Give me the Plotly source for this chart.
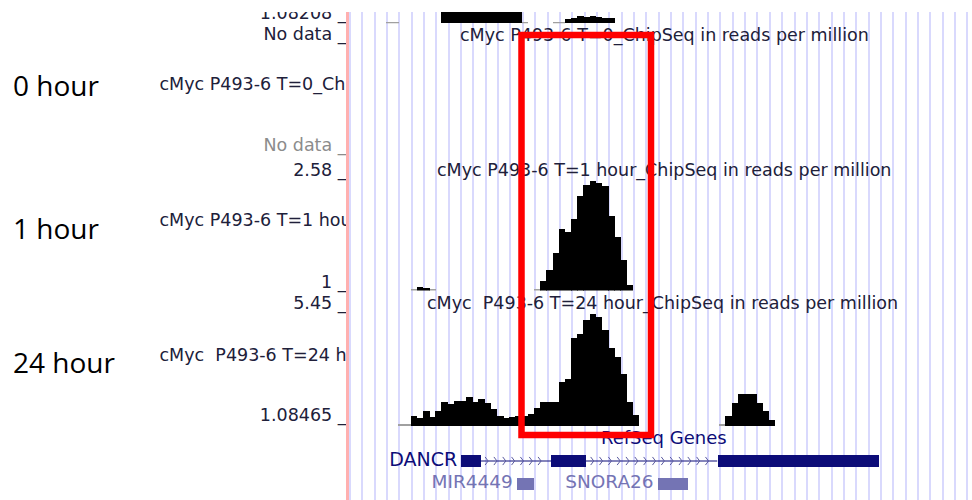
import numpy as np
import plotly.graph_objects as go

W, H = 972, 500
TOP = 12            # top edge of the browser capture (px)
X0 = 348.6          # px where bin 0 of the region starts
BINPX = 6.175       # px per bin
NBINS = (W - X0) / BINPX

def py(p):
    return 1 - p / H

def pxp(p):
    return p / W

# ---------------- data (bin index along region, reads per million) ----------------
# track above the 0-hour track (cut off at the top), baseline 1.08208
prev_base = 1.08208
prev_bins = [15, 16, 17, 18, 19, 20, 21, 22, 23, 24, 25, 26, 27,
             35, 36, 37, 38, 39, 40, 41, 42]
prev_vals = [3.0, 3.0, 3.0, 3.0, 3.0, 3.0, 3.0, 3.0, 3.0, 3.0, 3.0, 3.0, 3.0,
             1.30, 1.38, 1.50, 1.42, 1.50, 1.42, 1.36, 1.36]
prev_gray_bins = [6, 7, 28, 33, 34]
prev_gray_vals = [1.16, 1.16, 1.16, 1.16, 1.16]

# cMyc P493-6 T=1 hour
h1_min, h1_max = 1.0, 2.58
h1_bins = [11, 12, 31, 32, 33, 34, 35, 36, 37, 38, 39, 40, 41, 42, 43, 44, 45]
h1_vals = [1.05, 1.04, 1.13, 1.29, 1.52, 1.85, 1.81, 1.99, 2.32, 2.47, 2.53,
           2.49, 2.46, 2.04, 1.75, 1.42, 1.08]
h1_gray_bins = [10, 13, 30]
h1_gray_vals = [1.02, 1.02, 1.02]

# cMyc P493-6 T=24 hour
h24_min, h24_max = 1.08465, 5.45
h24_bins = [10, 11, 12, 13, 14, 15, 16, 17, 18, 19, 20, 21, 22, 23, 24, 25, 26, 27,
            28, 29, 30, 31, 32, 33, 34, 35, 36, 37, 38, 39, 40, 41, 42, 43, 44, 45, 46,
            61, 62, 63, 64, 65, 66, 67, 68]
h24_vals = [1.46, 1.40, 1.66, 1.41, 1.66, 1.97, 1.91, 2.04, 2.04, 2.17, 2.00, 2.10,
            1.94, 1.71, 1.47, 1.37, 1.41, 1.46,
            1.46, 1.54, 1.76, 1.99, 1.99, 1.99, 2.74, 2.85, 4.40, 4.55, 5.07, 5.30,
            5.19, 4.70, 4.01, 3.68, 3.04, 1.99, 1.50,
            1.46, 1.96, 2.29, 2.29, 2.29, 1.96, 1.65, 1.31]
h24_gray_bins = [8, 9, 60]
h24_gray_vals = [1.14, 1.14, 1.14]

# RefSeq genes (bin coordinates)
dancr_exon_start = [18.2, 32.7, 59.7]
dancr_exon_end = [21.3, 38.4, 85.9]
small_genes = ["MIR4449", "SNORA26"]
small_start = [27.2, 50.0]
small_end = [30.0, 54.9]

# ---------------- styling ----------------
UFONT = "DejaVu Sans"
USIZE = 17.5
DARK = "#20203a"
NAVY = "#0c0c78"
LIGHTG = "#7474b4"
GRID = "#d9d9fd"

fig = go.Figure()

# invisible trace so the background (grid) subplot exists
fig.add_trace(go.Scatter(x=[None], y=[None], mode="markers", xaxis="x", yaxis="y",
                         hoverinfo="skip", showlegend=False))


def bars(bins, vals, base, color, xa, ya):
    fig.add_trace(go.Bar(
        x=[b + 0.5 for b in bins], y=[v - base for v in vals], base=base,
        width=1.08, marker=dict(color=color, line=dict(width=0)),
        xaxis=xa, yaxis=ya, hoverinfo="skip", showlegend=False))


bars(prev_gray_bins, prev_gray_vals, prev_base, "#a0a0a0", "x4", "y2")
bars(prev_bins, prev_vals, prev_base, "black", "x4", "y2")
bars(h1_gray_bins, h1_gray_vals, h1_min, "#a0a0a0", "x5", "y5")
bars(h1_bins, h1_vals, h1_min, "black", "x5", "y5")
bars(h24_gray_bins, h24_gray_vals, h24_min, "#a0a0a0", "x6", "y6")
bars(h24_bins, h24_vals, h24_min, "black", "x6", "y6")

# gene track: DANCR line + chevrons + exons
fig.add_trace(go.Scatter(x=[dancr_exon_end[0], dancr_exon_start[-1]], y=[0, 0],
                         mode="lines", line=dict(color=NAVY, width=1.2),
                         xaxis="x7", yaxis="y7", hoverinfo="skip", showlegend=False))
cx, cy = [], []
for a, b in zip(dancr_exon_end[:-1], dancr_exon_start[1:]):
    for c in np.arange(a + 1.3, b - 0.2, 1.43):
        cx += [c - 0.5, c, c - 0.5, None]
        cy += [-0.18, 0, 0.18, None]
fig.add_trace(go.Scatter(x=cx, y=cy, mode="lines", line=dict(color="#5a5aa0", width=1),
                         xaxis="x7", yaxis="y7", hoverinfo="skip", showlegend=False))
fig.add_trace(go.Bar(orientation="h", base=dancr_exon_start,
                     x=[e - s for s, e in zip(dancr_exon_start, dancr_exon_end)],
                     y=[0, 0, 0], width=0.53, marker=dict(color=NAVY, line=dict(width=0)),
                     xaxis="x7", yaxis="y7", hoverinfo="skip", showlegend=False))
fig.add_trace(go.Bar(orientation="h", base=small_start,
                     x=[e - s for s, e in zip(small_start, small_end)],
                     y=[1, 1], width=0.55, marker=dict(color=LIGHTG, line=dict(width=0)),
                     xaxis="x7", yaxis="y7", hoverinfo="skip", showlegend=False))
fig.add_trace(go.Scatter(x=[dancr_exon_start[0] - 0.6], y=[0], text=["DANCR"], mode="text",
                         textposition="middle left",
                         textfont=dict(family=UFONT, size=19, color=NAVY),
                         xaxis="x7", yaxis="y7", hoverinfo="skip", showlegend=False))
fig.add_trace(go.Scatter(x=[s - 0.6 for s in small_start], y=[1, 1], text=small_genes,
                         mode="text", textposition="middle left",
                         textfont=dict(family=UFONT, size=18.5, color=LIGHTG),
                         xaxis="x7", yaxis="y7", hoverinfo="skip", showlegend=False))

# left-hand track labels (clipped at the browser's label column)
left_txt = ["1.08208 _", "No data _", "2.58 _", "1 _", "5.45 _", "1.08465 _"]
left_y = [15, 35.5, 171.5, 283.5, 305, 417]
fig.add_trace(go.Scatter(x=[346.5] * len(left_txt), y=left_y, text=left_txt, mode="text",
                         textposition="middle left",
                         textfont=dict(family=UFONT, size=USIZE, color=DARK),
                         xaxis="x2", yaxis="y", hoverinfo="skip", showlegend=False))
fig.add_trace(go.Scatter(x=[346.5], y=[147], text=["No data _"], mode="text",
                         textposition="middle left",
                         textfont=dict(family=UFONT, size=USIZE, color="#8c8c8c"),
                         xaxis="x2", yaxis="y", hoverinfo="skip", showlegend=False))
track_names = ["cMyc P493-6 T=0_ChipSeq in reads per million",
               "cMyc P493-6 T=1 hour_ChipSeq in reads per million",
               "cMyc  P493-6 T=24 hour_ChipSeq in reads per million"]
fig.add_trace(go.Scatter(x=[159.5, 159.5, 159.5], y=[86, 221.5, 356.5], text=track_names,
                         mode="text", textposition="middle right",
                         textfont=dict(family=UFONT, size=USIZE, color=DARK),
                         xaxis="x2", yaxis="y", hoverinfo="skip", showlegend=False))

# centre titles
fig.add_trace(go.Scatter(x=[460, 437, 427], y=[37, 171.5, 304.5], text=track_names,
                         mode="text", textposition="middle right",
                         textfont=dict(family=UFONT, size=USIZE, color=DARK),
                         xaxis="x3", yaxis="y", hoverinfo="skip", showlegend=False))
fig.add_trace(go.Scatter(x=[601], y=[439], text=["RefSeq Genes"],
                         mode="text", textposition="middle right",
                         textfont=dict(family=UFONT, size=18, color=NAVY),
                         xaxis="x3", yaxis="y", hoverinfo="skip", showlegend=False))

# slide labels
hour_labels = ["0 hour", "1 hour", "24 hour"]
hour_y = [85, 228, 361.5]
for t, yy in zip(hour_labels, hour_y):
    fig.add_annotation(text=t, x=pxp(11), y=py(yy), xref="paper", yref="paper",
                       xanchor="left", yanchor="middle", showarrow=False,
                       font=dict(family="Open Sans", size=28, color="black"))

hid = dict(visible=False)
dx = [X0 / W, 1]
fig.update_layout(
    width=W, height=H, margin=dict(l=0, r=0, t=0, b=0),
    paper_bgcolor="white", plot_bgcolor="rgba(0,0,0,0)",
    barmode="overlay", bargap=0, showlegend=False,
    xaxis=dict(domain=dx, range=[0, NBINS], showgrid=True, gridcolor=GRID, gridwidth=2.3,
               tick0=0.21, dtick=2, showticklabels=False, ticks="", zeroline=False,
               showline=False, anchor="y", visible=True),
    yaxis=dict(domain=[0, py(TOP)], range=[H, TOP], anchor="x", showgrid=False,
               zeroline=False, showticklabels=False, ticks="", showline=False),
    xaxis2=dict(domain=[0, 347 / W], range=[0, 347], anchor="y", **hid),
    xaxis3=dict(domain=dx, range=[X0, W], anchor="y", **hid),
    xaxis4=dict(domain=dx, range=[0, NBINS], anchor="y2", **hid),
    yaxis2=dict(domain=[py(23.3), py(TOP)], range=[prev_base, 1.70], anchor="x4", **hid),
    xaxis5=dict(domain=dx, range=[0, NBINS], anchor="y5", **hid),
    yaxis5=dict(domain=[py(290.5), py(177)], range=[h1_min, h1_max], anchor="x5", **hid),
    xaxis6=dict(domain=dx, range=[0, NBINS], anchor="y6", **hid),
    yaxis6=dict(domain=[py(426), py(310)], range=[h24_min, h24_max], anchor="x6", **hid),
    xaxis7=dict(domain=dx, range=[0, NBINS], anchor="y7", **hid),
    yaxis7=dict(domain=[py(494.75), py(449.75)], range=[1.5, -0.5], anchor="x7", **hid),
)

# browser label/data divider and red highlight box
fig.add_shape(type="line", xref="paper", yref="paper", x0=pxp(347.5), x1=pxp(347.5),
              y0=py(TOP), y1=0, line=dict(color="#ffb0b0", width=3), layer="above")
fig.add_shape(type="rect", xref="paper", yref="paper", x0=pxp(521.5), x1=pxp(651),
              y0=py(435), y1=py(35), line=dict(color="#ff0000", width=6.5),
              fillcolor="rgba(0,0,0,0)", layer="above")

fig.write_html("out.html")
